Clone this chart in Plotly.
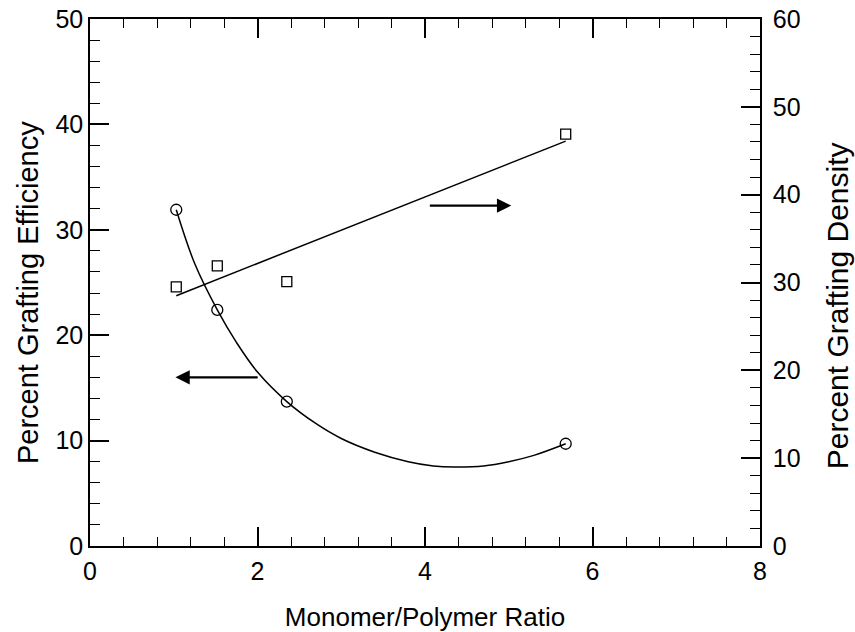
import plotly.graph_objects as go

# Data
ratio_pts = [1.03, 1.52, 2.35, 5.68]
efficiency = [31.9, 22.4, 13.7, 9.7]
density = [29.5, 31.9, 30.1, 46.9]

# Fitted curve for efficiency
curve_x = [1.03, 1.25, 1.52, 1.75, 2.0, 2.35, 2.7, 3.0, 3.4, 3.8, 4.1, 4.35, 4.7, 5.0, 5.3, 5.68]
curve_y = [31.9, 26.8, 22.4, 19.3, 16.5, 13.7, 11.6, 10.2, 8.9, 8.0, 7.6, 7.5, 7.6, 8.0, 8.6, 9.7]

# Linear fit for density (right axis)
line_x = [1.03, 5.68]
line_y = [28.5, 46.1]

# Arrow positions (x from, x to, left-axis y)
arrow_left = (2.02, 1.02, 16.0)
arrow_right = (4.04, 5.03, 32.3)

FONT = "Liberation Sans, Arial, sans-serif"
TICK_SIZE = 25

fig = go.Figure()
fig.add_trace(go.Scatter(x=curve_x, y=curve_y, mode="lines", line=dict(color="black", width=1.5, shape="spline"), showlegend=False))
fig.add_trace(go.Scatter(x=ratio_pts, y=efficiency, mode="markers",
                         marker=dict(symbol="circle-open", size=11, color="black", line=dict(width=1.3)), showlegend=False))
fig.add_trace(go.Scatter(x=line_x, y=line_y, mode="lines", line=dict(color="black", width=1.5), yaxis="y2", showlegend=False))
fig.add_trace(go.Scatter(x=ratio_pts, y=density, mode="markers", yaxis="y2",
                         marker=dict(symbol="square-open", size=10, color="black", line=dict(width=1.3)), showlegend=False))

for x0, x1, yv in (arrow_left, arrow_right):
    fig.add_annotation(x=x1, y=yv, ax=x0, ay=yv, xref="x", yref="y", axref="x", ayref="y",
                       showarrow=True, arrowhead=2, arrowsize=1.3, arrowwidth=2.2, arrowcolor="black", text="")

# Vertical axis titles as annotations (positioned like the reference)
fig.add_annotation(text="Percent Grafting Efficiency", xref="paper", yref="paper", x=-0.0925, y=0.48,
                   xanchor="center", yanchor="middle", textangle=-90, showarrow=False,
                   font=dict(family=FONT, size=29, color="black"))
fig.add_annotation(text="Percent Grafting Density", xref="paper", yref="paper", x=1.115, y=0.455,
                   xanchor="center", yanchor="middle", textangle=-90, showarrow=False,
                   font=dict(family=FONT, size=30, color="black"))

axis_common = dict(showgrid=False, zeroline=False, showline=True, linecolor="black", linewidth=1.5,
                   ticks="inside", ticklen=19, tickwidth=1.5, tickcolor="black", automargin=False,
                   tickfont=dict(family=FONT, size=TICK_SIZE, color="black"))

fig.update_layout(
    width=855, height=632,
    margin=dict(l=90, r=95, t=19, b=86, autoexpand=False),
    plot_bgcolor="white", paper_bgcolor="white",
    xaxis=dict(range=[0, 8], dtick=2, mirror="ticks", ticklabelstandoff=2,
               minor=dict(dtick=0.4, ticks="inside", ticklen=9, tickwidth=1.3, tickcolor="black"),
               title=dict(text="Monomer/Polymer Ratio", font=dict(family=FONT, size=26, color="black"), standoff=27),
               **axis_common),
    yaxis=dict(range=[0, 50], dtick=10,
               minor=dict(dtick=2, ticks="inside", ticklen=10, tickwidth=1.3, tickcolor="black"),
               **axis_common),
    yaxis2=dict(range=[0, 60], dtick=10, overlaying="y", side="right", ticklabelstandoff=6,
                minor=dict(dtick=2, ticks="inside", ticklen=10, tickwidth=1.3, tickcolor="black"),
                **axis_common),
)

fig.write_html("out.html")
